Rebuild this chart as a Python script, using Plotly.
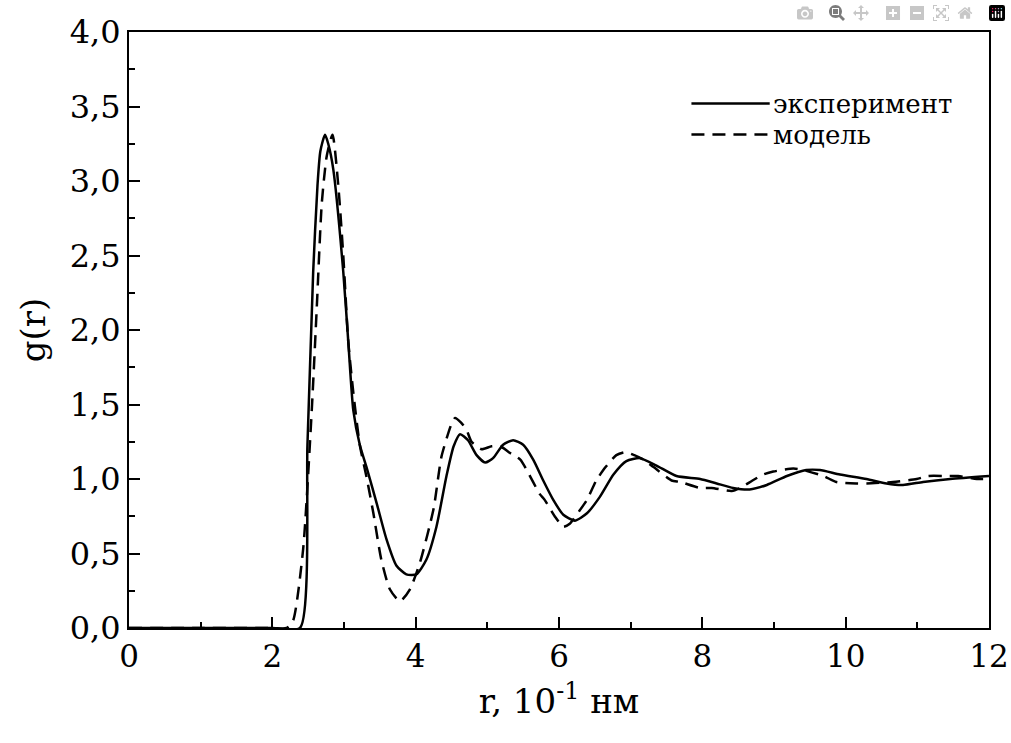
import plotly.graph_objects as go

# experimental g(r)
r_exp = [0, 1.0, 2.0, 2.386, 2.49, 2.57, 2.63, 2.67, 2.735, 2.78, 2.85, 2.99, 3.06, 3.13,
         3.22, 3.32, 3.46, 3.59, 3.73, 3.87, 4.01, 4.15, 4.29, 4.43, 4.53, 4.62, 4.73,
         4.85, 4.97, 5.08, 5.22, 5.36, 5.50, 5.64, 5.78, 5.92, 6.06, 6.22, 6.39, 6.57,
         6.76, 6.94, 7.13, 7.36, 7.64, 7.97, 8.20, 8.43, 8.66, 8.90, 9.18, 9.45, 9.64,
         9.92, 10.29, 10.57, 10.80, 11.08, 11.46, 12.0]
g_exp = [0, 0, 0, 0, 1.23, 2.39, 2.97, 3.20, 3.31, 3.25, 3.08, 2.39, 1.92, 1.46,
         1.23, 1.07, 0.83, 0.60, 0.42, 0.36, 0.36, 0.46, 0.68, 1.02, 1.22, 1.30, 1.26,
         1.16, 1.11, 1.14, 1.23, 1.26, 1.23, 1.13, 0.99, 0.86, 0.76, 0.72, 0.77, 0.88,
         1.03, 1.12, 1.14, 1.09, 1.02, 1.00, 0.97, 0.94, 0.93, 0.96, 1.02, 1.06, 1.06,
         1.03, 1.00, 0.97, 0.96, 0.98, 1.00, 1.02]

# model g(r)
r_mod = [0, 1.0, 2.0, 2.2, 2.29, 2.43, 2.55, 2.62, 2.69, 2.76, 2.84, 2.92, 2.99, 3.06,
         3.13, 3.22, 3.32, 3.41, 3.52, 3.64, 3.78, 3.92, 4.06, 4.25, 4.36, 4.50, 4.55,
         4.63, 4.71, 4.78, 4.92, 5.06, 5.18, 5.30, 5.46, 5.55, 5.73, 5.80, 5.94, 6.06,
         6.15, 6.29, 6.39, 6.52, 6.65, 6.80, 6.92, 7.05, 7.18, 7.32, 7.57, 7.69, 7.97,
         8.13, 8.41, 8.53, 8.70, 8.85, 8.99, 9.27, 9.41, 9.69, 9.87, 10.15, 10.29,
         10.66, 10.99, 11.15, 11.41, 11.57, 11.83, 12.0]
g_mod = [0, 0, 0, 0, 0.05, 0.53, 1.46, 2.15, 2.85, 3.17, 3.31, 2.97, 2.50, 1.92,
         1.58, 1.23, 1.00, 0.77, 0.46, 0.26, 0.18, 0.26, 0.44, 0.80, 1.15, 1.37, 1.41,
         1.38, 1.33, 1.25, 1.20, 1.22, 1.22, 1.18, 1.13, 1.06, 0.90, 0.86, 0.75, 0.68,
         0.70, 0.79, 0.86, 0.99, 1.08, 1.16, 1.18, 1.16, 1.13, 1.08, 0.99, 0.98, 0.94,
         0.94, 0.92, 0.94, 0.99, 1.03, 1.05, 1.07, 1.06, 1.02, 0.98, 0.97, 0.97,
         0.98, 1.00, 1.02, 1.02, 1.02, 1.00, 1.00]

y_ticks = [0, 0.5, 1.0, 1.5, 2.0, 2.5, 3.0, 3.5, 4.0]
y_labels = ["0,0", "0,5", "1,0", "1,5", "2,0", "2,5", "3,0", "3,5", "4,0"]
x_ticks = [0, 2, 4, 6, 8, 10, 12]
legend_names = ["эксперимент", "модель"]

# Liberation Serif does not resolve in the renderer, DejaVu Serif does
FONT = "DejaVu Serif"
DASH = "13px,8px"

fig = go.Figure()
fig.add_trace(go.Scatter(x=r_mod, y=g_mod, mode="lines", name=legend_names[1],
                         line=dict(color="black", width=2.5, dash=DASH, shape="spline", smoothing=0.6)))
fig.add_trace(go.Scatter(x=r_exp, y=g_exp, mode="lines", name=legend_names[0],
                         line=dict(color="black", width=2.5, shape="spline", smoothing=0.6)))

axis_common = dict(
    showline=True, linecolor="black", linewidth=2, mirror=True,
    ticks="inside", ticklen=11, tickwidth=1.5, tickcolor="black",
    showgrid=False, zeroline=False, automargin=False,
)

fig.update_xaxes(
    range=[0, 12], tickvals=x_ticks, ticklabeloverflow="allow",
    minor=dict(ticks="inside", ticklen=6, tickwidth=1.5, tickcolor="black", dtick=1, tick0=0),
    tickfont=dict(family=FONT, size=31, color="black"),
    title=dict(text="r, 10<sup>-1</sup> нм", font=dict(family=FONT, size=34, color="black"), standoff=16),
    **axis_common,
)
fig.update_yaxes(
    range=[0, 4], tickvals=y_ticks, ticktext=y_labels,
    minor=dict(ticks="inside", ticklen=6, tickwidth=1.5, tickcolor="black", dtick=0.25, tick0=0),
    tickfont=dict(family=FONT, size=32, color="black"),
    title=dict(text="g(r)", font=dict(family=FONT, size=34, color="black"), standoff=14),
    **axis_common,
)

# legend drawn by hand so the sample lines are as long as in the original
leg_rows = [(0.88, "solid", legend_names[0]), (0.828, DASH, legend_names[1])]
for yy, dash, name in leg_rows:
    fig.add_shape(type="line", xref="paper", yref="paper", x0=0.654, x1=0.745, y0=yy, y1=yy,
                  line=dict(color="black", width=2.5, dash=dash))
    fig.add_annotation(xref="paper", yref="paper", x=0.747, y=yy, text=name, showarrow=False,
                       xanchor="left", yanchor="middle",
                       font=dict(family=FONT, size=26, color="black"))

fig.update_layout(
    width=1011, height=743,
    margin=dict(l=129, r=22, t=32, b=115),
    paper_bgcolor="white", plot_bgcolor="white",
    showlegend=False,
    font=dict(family=FONT, color="black"),
)

# drop the default 8px body margin so the figure fills the window without scrollbars
fig.write_html("out.html", post_script="document.body.style.margin='0';document.body.style.overflow='hidden';")
